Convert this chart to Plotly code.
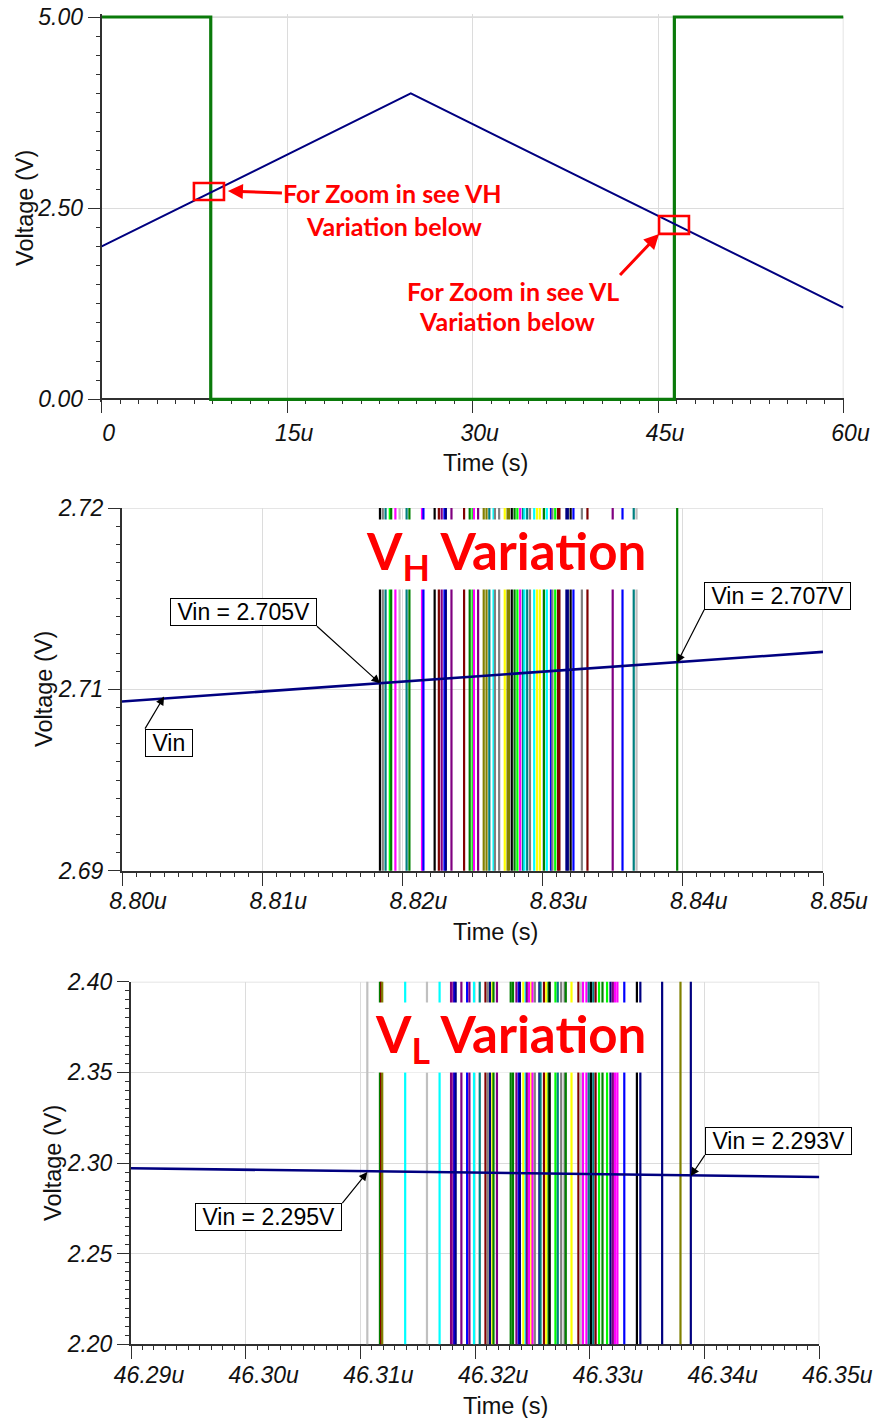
import plotly.graph_objects as go

W, H = 873, 1418

# ---------------- data ----------------
# Top panel: full transient (time in microseconds)
top_vin_t = [0, 25, 60]
top_vin_v = [2.0, 4.0, 1.2]
top_out_t = [0, 8.82, 8.82, 46.32, 46.32, 60]
top_out_v = [5, 5, 0, 0, 5, 5]

# Middle panel: VH variation (rising-edge switching times of the sweep runs)
vh_vin_t = [8.80, 8.85]
vh_vin_v = [2.7040, 2.7081]
vh_switch_t = [8.8184, 8.8186, 8.8188, 8.8191, 8.8192, 8.8195, 8.8198, 8.8203, 8.8205,
               8.8214, 8.8215, 8.8223, 8.8226, 8.8228, 8.8230, 8.8231, 8.8235, 8.8244,
               8.8248, 8.8250, 8.8251, 8.8254, 8.8258, 8.8260, 8.8262, 8.8265, 8.8266,
               8.8269, 8.8273, 8.8275, 8.8276, 8.8278, 8.8280, 8.8282, 8.8284, 8.8286,
               8.8287, 8.8289, 8.8291, 8.8294, 8.8296, 8.8298, 8.8301, 8.8303, 8.8306,
               8.8307, 8.8309, 8.8311, 8.8312, 8.8317, 8.8318, 8.8320, 8.8322, 8.8328,
               8.8332, 8.8350, 8.8357, 8.8365, 8.8367, 8.8396]
vh_switch_c = ["black", "gray", "teal", "lime", "green", "magenta", "silver", "teal", "green",
               "magenta", "blue", "black", "maroon", "purple", "blue", "navy", "purple", "maroon",
               "green", "lime", "magenta", "purple", "olive", "olive", "teal", "cyan", "gray",
               "gray", "yellow", "olive", "olive", "black", "green", "lime", "magenta", "teal",
               "cyan", "teal", "gray", "cyan", "yellow", "yellow", "green", "cyan", "blue",
               "gray", "lime", "maroon", "maroon", "navy", "navy", "black", "blue", "gray",
               "maroon", "purple", "blue", "teal", "silver", "green"]

# Bottom panel: VL variation
vl_vin_t = [46.29, 46.35]
vl_vin_v = [2.2971, 2.2923]
vl_switch_t = [46.3106, 46.3117, 46.3118, 46.3119, 46.3139, 46.3158, 46.3169, 46.3179, 46.3181,
               46.3182, 46.3183, 46.3188, 46.3193, 46.3195, 46.3199, 46.3204, 46.3209, 46.3211,
               46.3213, 46.3215, 46.3216, 46.3219, 46.3231, 46.3233, 46.3236, 46.3238, 46.3239,
               46.3242, 46.3244, 46.3245, 46.3247, 46.3249, 46.3250, 46.3252, 46.3256, 46.3257,
               46.3260, 46.3262, 46.3264, 46.3265, 46.3270, 46.3272, 46.3275, 46.3278, 46.3279,
               46.3284, 46.3290, 46.3292, 46.3294, 46.3297, 46.3299, 46.3301, 46.3303, 46.3305,
               46.3308, 46.3311, 46.3315, 46.3318, 46.3320, 46.3322, 46.3324, 46.3330, 46.3341,
               46.3344, 46.3363, 46.3379, 46.3388]
vl_switch_c = ["silver", "green", "maroon", "olive", "cyan", "silver", "cyan", "purple", "purple",
               "blue", "navy", "purple", "blue", "purple", "cyan", "teal", "maroon", "gray",
               "navy", "yellow", "green", "purple", "green", "green", "purple", "blue", "navy",
               "yellow", "cyan", "purple", "magenta", "yellow", "magenta", "gray", "navy", "teal",
               "maroon", "yellow", "green", "black", "lime", "teal", "gray", "gray", "green",
               "yellow", "maroon", "silver", "magenta", "magenta", "teal", "black", "teal", "maroon",
               "lime", "green", "lime", "navy", "purple", "magenta", "magenta", "blue", "black",
               "navy", "navy", "olive", "navy"]
switch_low, switch_high = 0.0, 5.0

# tick labels
top_xticks = [0, 15, 30, 45, 60]
top_xlabels = ["0", "15u", "30u", "45u", "60u"]
top_yticks = [0, 2.5, 5]
top_ylabels = ["0.00", "2.50", "5.00"]
vh_xticks = [8.80, 8.81, 8.82, 8.83, 8.84, 8.85]
vh_xlabels = ["8.80u", "8.81u", "8.82u", "8.83u", "8.84u", "8.85u"]
vh_yticks = [2.69, 2.705, 2.72]
vh_ylabels = ["2.69", "2.71", "2.72"]
vl_xticks = [46.29, 46.30, 46.31, 46.32, 46.33, 46.34, 46.35]
vl_xlabels = ["46.29u", "46.30u", "46.31u", "46.32u", "46.33u", "46.34u", "46.35u"]
vl_yticks = [2.20, 2.25, 2.30, 2.35, 2.40]
vl_ylabels = ["2.20", "2.25", "2.30", "2.35", "2.40"]

# ---------------- styling ----------------
PAL = {"black": "#000000", "gray": "#808080", "silver": "#c0c0c0", "teal": "#008080",
       "lime": "#00ff00", "green": "#008000", "magenta": "#ff00ff", "blue": "#0000ff",
       "navy": "#000080", "purple": "#800080", "maroon": "#800000", "olive": "#808000",
       "cyan": "#00ffff", "yellow": "#ffff00"}
NAVY = "#000080"
OUTGREEN = "#0a7a0a"
GRID = "#dcdcdc"
AX = "#303030"
TICKFONT = dict(family="Liberation Sans, Arial", size=23, color="#111111", style="italic")
LBLFONT = dict(family="Liberation Sans, Arial", size=23.5, color="#111111")
RED = "#ff0000"


def px_x(p):
    return p / W


def px_y(p):
    return 1 - p / H


fig = go.Figure()

# top panel
fig.add_trace(go.Scatter(x=top_out_t, y=top_out_v, mode="lines",
                         line=dict(color=OUTGREEN, width=3.2), xaxis="x", yaxis="y"))
fig.add_trace(go.Scatter(x=top_vin_t, y=top_vin_v, mode="lines",
                         line=dict(color=NAVY, width=2), xaxis="x", yaxis="y"))

# middle panel
for t, c in zip(vh_switch_t, vh_switch_c):
    fig.add_trace(go.Scatter(x=[t, t], y=[switch_low, switch_high], mode="lines",
                             line=dict(color=PAL[c], width=2.2), xaxis="x2", yaxis="y2"))
fig.add_trace(go.Scatter(x=vh_vin_t, y=vh_vin_v, mode="lines",
                         line=dict(color=NAVY, width=2.6), xaxis="x2", yaxis="y2"))

# bottom panel
for t, c in zip(vl_switch_t, vl_switch_c):
    fig.add_trace(go.Scatter(x=[t, t], y=[switch_low, switch_high], mode="lines",
                             line=dict(color=PAL[c], width=2.2), xaxis="x3", yaxis="y3"))
fig.add_trace(go.Scatter(x=vl_vin_t, y=vl_vin_v, mode="lines",
                         line=dict(color=NAVY, width=2.6), xaxis="x3", yaxis="y3"))


def xaxis_cfg(dom, rng, tv, tt, minor_dt, anchor, position=None, standoff=0, shift=6):
    d = dict(domain=dom, range=rng, tickmode="array", tickvals=tv, ticktext=tt,
             showgrid=True, gridcolor=GRID, gridwidth=1, zeroline=False,
             showline=True, linecolor=AX, linewidth=2, ticks="outside", ticklen=13,
             tickwidth=1, tickcolor=AX, tickfont=TICKFONT, ticklabelshift=shift,
             ticklabelstandoff=standoff,
             minor=dict(ticks="outside", ticklen=4, tickcolor=AX, tickwidth=1,
                        dtick=minor_dt, tick0=rng[0], showgrid=False),
             anchor=anchor, layer="below traces", fixedrange=True, automargin=False)
    if position is not None:
        d["position"] = position
    return d


def yaxis_cfg(dom, rng, tv, tt, minor_dt, tick0, anchor):
    return dict(domain=dom, range=rng, tickmode="array", tickvals=tv, ticktext=tt,
                showgrid=True, gridcolor=GRID, gridwidth=1, zeroline=False,
                showline=True, linecolor=AX, linewidth=2, ticks="outside", ticklen=12,
                tickwidth=1, tickcolor=AX, tickfont=TICKFONT,
                minor=dict(ticks="outside", ticklen=4, tickcolor=AX, tickwidth=1,
                           dtick=minor_dt, tick0=tick0, showgrid=False),
                anchor=anchor, layer="below traces", fixedrange=True, automargin=False)


def medium(over, anchor, dom, rng, vals, position=None):
    d = dict(overlaying=over, anchor=anchor, domain=dom, range=rng, tickmode="array",
             tickvals=vals, showgrid=False, zeroline=False,
             showline=False, ticks="outside", ticklen=8, tickwidth=1, tickcolor=AX,
             showticklabels=False, fixedrange=True, automargin=False)
    if position is not None:
        d["position"] = position
    return d


# --- pixel geometry of the three panels ---
t_l, t_r, t_top, t_bot = 101.7, 843.5, 17.0, 399.3
pad_v = 0.04
pxv = (t_bot - t_top) / 5.0
top_ydom = [px_y(t_bot + pad_v * pxv), px_y(t_top - pad_v * pxv)]
top_xdom = [px_x(t_l), px_x(t_r)]
m_l, m_r, m_top, m_bot = 122.0, 823.0, 508.0, 870.7
b_l, b_r, b_top, b_bot = 131.0, 819.3, 981.7, 1344.3
mid_xdom = [px_x(m_l), px_x(m_r)]
mid_ydom = [px_y(m_bot), px_y(m_top)]
bot_xdom = [px_x(b_l), px_x(b_r)]
bot_ydom = [px_y(b_bot), px_y(b_top)]

fig.update_layout(
    template="none",
    width=W, height=H, margin=dict(l=0, r=0, t=0, b=0, autoexpand=False),
    paper_bgcolor="white", plot_bgcolor="white", showlegend=False,
    xaxis=xaxis_cfg(top_xdom, [0, 60], top_xticks, top_xlabels, 1.5, "free", px_y(t_bot), shift=7),
    yaxis=yaxis_cfg(top_ydom, [-pad_v, 5 + pad_v], top_yticks, top_ylabels, 0.25, 0, "x"),
    xaxis2=xaxis_cfg(mid_xdom, [8.80, 8.85], vh_xticks, vh_xlabels, 0.001, "y2", standoff=-4, shift=16),
    yaxis2=yaxis_cfg(mid_ydom, [2.69, 2.72], vh_yticks, vh_ylabels, 0.0015, 2.69, "x2"),
    xaxis3=xaxis_cfg(bot_xdom, [46.29, 46.35], vl_xticks, vl_xlabels, 0.001, "y3", standoff=-4, shift=18),
    yaxis3=yaxis_cfg(bot_ydom, [2.20, 2.40], vl_yticks, vl_ylabels, 0.005, 2.20, "x3"),
    xaxis4=medium("x", "free", top_xdom, [0, 60], [7.5, 22.5, 37.5, 52.5], px_y(t_bot)),
    yaxis4=medium("y", "x", top_ydom, [-pad_v, 5 + pad_v], [1.25, 3.75]),
    xaxis5=medium("x2", "y2", mid_xdom, [8.80, 8.85], [8.805, 8.815, 8.825, 8.835, 8.845]),
    yaxis5=medium("y2", "x2", mid_ydom, [2.69, 2.72], [2.6975, 2.7125]),
    xaxis6=medium("x3", "y3", bot_xdom, [46.29, 46.35],
                  [46.295, 46.305, 46.315, 46.325, 46.335, 46.345]),
    yaxis6=medium("y3", "x3", bot_ydom, [2.20, 2.40], [2.225, 2.275, 2.325, 2.375]),
)

shapes = []
# light-gray top/right frame edges
for (xr, yr, x0, x1, y0, y1) in [("x", "y", 0, 60, 5, 5), ("x", "y", 60, 60, 0, 5),
                                 ("x2", "y2", 8.80, 8.85, 2.72, 2.72), ("x2", "y2", 8.85, 8.85, 2.69, 2.72),
                                 ("x3", "y3", 46.29, 46.35, 2.40, 2.40), ("x3", "y3", 46.35, 46.35, 2.20, 2.40)]:
    shapes.append(dict(type="line", xref=xr, yref=yr, x0=x0, x1=x1, y0=y0, y1=y1,
                       line=dict(color=GRID, width=1.5), layer="below"))
# red zoom boxes in the top panel
shapes.append(dict(type="rect", xref="x", yref="y", x0=7.46, x1=9.89, y0=2.607, y1=2.829,
                   line=dict(color=RED, width=2.6), layer="above"))
shapes.append(dict(type="rect", xref="x", yref="y", x0=45.08, x1=47.50, y0=2.163, y1=2.398,
                   line=dict(color=RED, width=2.6), layer="above"))
fig.update_layout(shapes=shapes)

ann = []
REDFONT = dict(family="Lato, Carlito, sans-serif", size=25, color=RED, weight="bold")
# red callouts: first line carries the arrow
ann.append(dict(xref="x", yref="y", x=10.21, y=2.724, ax=54, ay=2, showarrow=True,
                text="For Zoom in see VH", font=REDFONT, xanchor="left", yanchor="middle",
                arrowcolor=RED, arrowwidth=3, arrowhead=2, arrowsize=1, borderpad=0))
ann.append(dict(xref="paper", yref="paper", x=px_x(394), y=px_y(226), showarrow=False,
                text="Variation below", font=REDFONT, xanchor="center", yanchor="middle"))
ann.append(dict(xref="x", yref="y", x=45.08, y=2.163, ax=-39, ay=41, showarrow=True,
                text="For Zoom in see VL", font=REDFONT, xanchor="right", yanchor="top",
                arrowcolor=RED, arrowwidth=3, arrowhead=2, arrowsize=1, borderpad=0))
ann.append(dict(xref="paper", yref="paper", x=px_x(507), y=px_y(321), showarrow=False,
                text="Variation below", font=REDFONT, xanchor="center", yanchor="middle"))

# big red titles
TITLEFONT = dict(family="Lato, Carlito, sans-serif", size=51, color=RED, weight="bold")
ann.append(dict(xref="paper", yref="paper", x=px_x(506), y=px_y(555), showarrow=False,
                text="<b>V<sub>H</sub> Variation</b>", font=TITLEFONT, bgcolor="white",
                borderpad=0, xanchor="center", yanchor="middle"))
ann.append(dict(xref="paper", yref="paper", x=px_x(510), y=px_y(1037), showarrow=False,
                text="<b>V<sub>L</sub> Variation</b>", font=TITLEFONT, bgcolor="white",
                borderpad=0, xanchor="center", yanchor="middle"))

# boxed labels with black arrows (arrow tail at a box corner)
BOXFONT = dict(family="Liberation Sans, Arial", size=23, color="#000000")
NB = "\u00a0"
for (xr, yr, x, y, ax, ay, xa, ya, txt) in [
        ("x2", "y2", 8.8184, 2.7055, -63, -57, "right", "bottom", "Vin = 2.705V"),
        ("x2", "y2", 8.8396, 2.7072, 27, -53, "left", "bottom", "Vin = 2.707V"),
        ("x2", "y2", 8.8030, 2.7044, -19, 32, "left", "top", "Vin"),
        ("x3", "y3", 46.3106, 2.2950, -25, 31, "right", "top", "Vin = 2.295V"),
        ("x3", "y3", 46.3388, 2.2928, 14, -21, "left", "bottom", "Vin = 2.293V")]:
    ann.append(dict(xref=xr, yref=yr, x=x, y=y, ax=ax, ay=ay, showarrow=True,
                    text=NB + txt + NB, font=BOXFONT, bgcolor="white", bordercolor="#000000",
                    borderwidth=1, borderpad=0, xanchor=xa, yanchor=ya,
                    arrowcolor="#000000", arrowwidth=1.2, arrowhead=2, arrowsize=1.4))

# axis titles
for (cx, cy) in [(485, 463), (495, 932), (505, 1406)]:
    ann.append(dict(xref="paper", yref="paper", x=px_x(cx), y=px_y(cy), showarrow=False,
                    text="Time (s)", font=LBLFONT, xanchor="center", yanchor="middle"))
for (cx, cy) in [(25, 208), (44, 689), (53, 1163)]:
    ann.append(dict(xref="paper", yref="paper", x=px_x(cx), y=px_y(cy), showarrow=False,
                    text="Voltage (V)", font=LBLFONT, textangle=-90,
                    xanchor="center", yanchor="middle"))

fig.update_layout(annotations=ann)
fig.write_html("out.html", config={"displayModeBar": False},
               post_script="document.body.style.margin='0';document.body.style.padding='0';")
